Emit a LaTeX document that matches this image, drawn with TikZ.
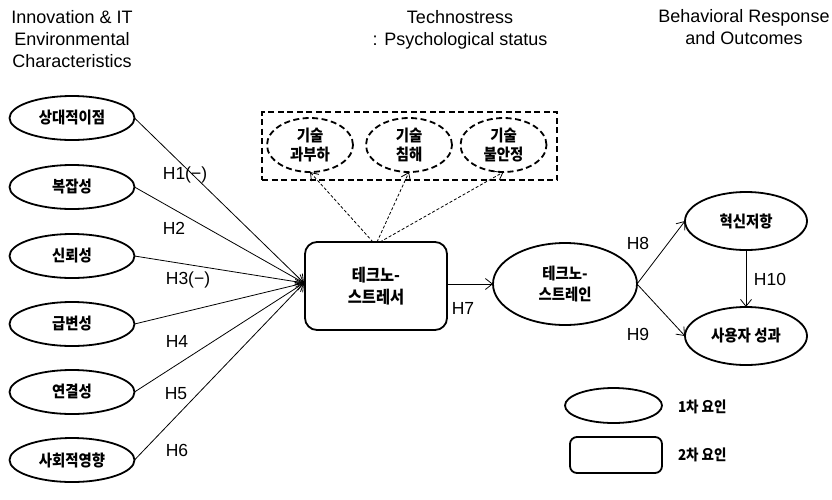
\documentclass[tikz,border=0pt]{standalone}
\usepackage{fontspec}
\setmainfont{Liberation Sans}
\newfontfamily\kr{Noto Sans CJK KR}[FakeStretch=0.9]
\usetikzlibrary{arrows.meta,shapes.geometric}
\begin{document}
\begin{tikzpicture}[x=1pt,y=-1pt,
  every node/.style={inner sep=0pt, outer sep=0pt},
  hdr/.style={align=center, anchor=north, font=\fontsize{18}{22}\selectfont},
  hlab/.style={font=\fontsize{17.5}{20}\selectfont},
  krf/.style={font=\kr\bfseries\fontsize{16}{19}\selectfont, align=center},
  fac/.style={krf, draw, line width=1.8pt, ellipse, minimum width=125pt, minimum height=44pt},
  dfac/.style={krf, draw, line width=1.8pt, ellipse, dash pattern=on 6pt off 3.5pt, minimum width=86pt, minimum height=54pt},
  rbox/.style={krf, draw, line width=1.8pt, rounded corners=12pt, minimum width=142pt, minimum height=88pt},
  arr/.style={line width=0.8pt, -{Straight Barb[length=7pt,width=11pt]}},
  darr/.style={line width=0.8pt, dash pattern=on 3pt off 2pt, -{Straight Barb[length=7pt,width=10pt]}}
]
\useasboundingbox (0,0) rectangle (832,499);

% headers
\node[hdr] (h1) at (72,10) {Innovation \& IT\\Environmental\\Characteristics};
\node[hdr] (h2) at (460,10) {Technostress\\: Psychological status};
\node[hdr] (h3) at (744,9.7) {Behavioral Response\\and Outcomes};

% left factors
\node[fac] (e1) at (72,118) {상대적이점};
\node[fac] (e2) at (72,187) {복잡성};
\node[fac] (e3) at (72,256) {신뢰성};
\node[fac] (e4) at (72,324) {급변성};
\node[fac] (e5) at (72,392) {연결성};
\node[fac] (e6) at (72,460) {사회적영향};

% technostressor box
\node[rbox, font=\kr\bfseries\fontsize{17}{21.5}\selectfont] (ts) at (376,286) {테크노-\\스트레서};

% dashed group
\node[draw, line width=1.8pt, dash pattern=on 6pt off 3.5pt, minimum width=295pt, minimum height=68pt] (grp) at (409.5,146) {};
\node[dfac] (d1) at (310,145) {기술\\과부하};
\node[dfac] (d2) at (409,145) {기술\\침해};
\node[dfac] (d3) at (503.5,145) {기술\\불안정};

\draw[darr] ([xshift=-3pt]ts.north) -- (d1.south);
\draw[darr] ([xshift=1pt]ts.north) -- (d2.south);
\draw[darr] ([xshift=4pt]ts.north) -- (d3.south);

% converging arrows
\coordinate (tin) at (304,283);
\foreach \i in {1,...,6} {\draw[arr] (e\i.east) -- (tin);}

\node[hlab] (l1) at (185,175) {H1(−)};
\node[hlab] (l2) at (174,228) {H2};
\node[hlab] (l3) at (188,280) {H3(−)};
\node[hlab] (l4) at (177,341) {H4};
\node[hlab] (l5) at (176,394) {H5};
\node[hlab] (l6) at (177,450) {H6};

% strain
\node[fac, font=\kr\bfseries\fontsize{16}{21}\selectfont, minimum width=144pt, minimum height=82pt] (st) at (565,284) {테크노-\\스트레인};
\draw[arr] (ts.east |- 0,284) -- (st.west);
\node[hlab] (l7) at (463,308) {H7};

% outcomes
\node[fac, minimum width=122pt, minimum height=58pt] (ir) at (746,221) {혁신저항};
\node[fac, minimum width=122pt, minimum height=58pt] (up) at (746,336) {사용자 성과};
\draw[arr] (st.east) -- (ir.west);
\draw[arr] (st.east) -- (up.west);
\draw[arr] (ir.south) -- (up.north);
\node[hlab] (l8) at (638,243) {H8};
\node[hlab] (l9) at (638,334) {H9};
\node[hlab] (l10) at (770,279) {H10};

% legend
\node[fac, minimum width=97pt, minimum height=35pt] (lg1) at (613.5,405.5) {};
\node[draw, line width=1.8pt, rounded corners=7pt, minimum width=92pt, minimum height=36pt] (lg2) at (616,455) {};
\node[font=\kr\bfseries\fontsize{15}{18}\selectfont, anchor=west] (lt1) at (678,407) {1차 요인};
\node[font=\kr\bfseries\fontsize{15}{18}\selectfont, anchor=west] (lt2) at (678,455) {2차 요인};
\end{tikzpicture}
\end{document}
